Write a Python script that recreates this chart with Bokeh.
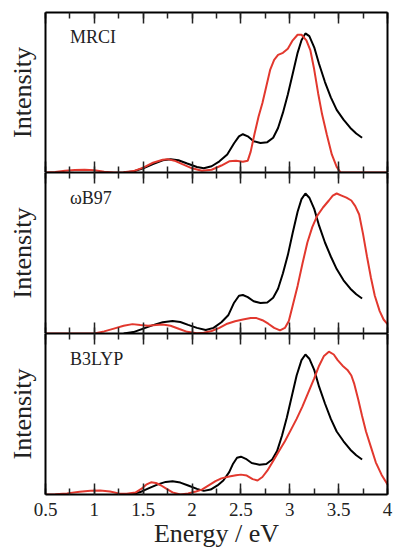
from bokeh.plotting import figure
from bokeh.layouts import column
from bokeh.models import (Range1d, LinearAxis, SingleIntervalTicker, FixedTicker, Label,
                          NumeralTickFormatter, CustomLabelingPolicy)
from bokeh.embed import file_html
from bokeh.resources import INLINE

# ---------------- data ----------------
panel_names = ["MRCI", "\u03c9B97", "B3LYP"]
x_ticks_interval = 0.5
x_min, x_max = 0.5, 4.0
x_label = "Energy / eV"
y_label = "Intensity"

mrci_black_x = [1.30, 1.40, 1.50, 1.60, 1.70, 1.78, 1.86, 1.95, 2.05, 2.12, 2.20, 2.28, 2.36, 2.43, 2.48, 2.52, 2.57, 2.63, 2.70, 2.77, 2.83, 2.88, 2.93, 2.98, 3.03, 3.08, 3.12, 3.16, 3.20, 3.25, 3.30, 3.36, 3.42, 3.48, 3.55, 3.62, 3.68, 3.74]
mrci_black_y = [0.0, 0.008, 0.03, 0.06, 0.088, 0.096, 0.088, 0.065, 0.04, 0.03, 0.045, 0.08, 0.13, 0.21, 0.26, 0.275, 0.26, 0.225, 0.212, 0.218, 0.25, 0.32, 0.43, 0.56, 0.71, 0.86, 0.95, 1.0, 0.98, 0.9, 0.78, 0.65, 0.54, 0.45, 0.38, 0.32, 0.28, 0.25]
mrci_red_x = [0.50, 0.60, 0.70, 0.80, 0.90, 1.00, 1.10, 1.20, 1.30, 1.40, 1.50, 1.60, 1.70, 1.75, 1.82, 1.90, 2.00, 2.10, 2.20, 2.30, 2.38, 2.45, 2.52, 2.57, 2.60, 2.64, 2.68, 2.72, 2.76, 2.80, 2.84, 2.88, 2.93, 2.98, 3.03, 3.08, 3.12, 3.17, 3.21, 3.25, 3.29, 3.33, 3.38, 3.43, 3.48, 3.52, 4.00]
mrci_red_y = [0.0, 0.003, 0.012, 0.018, 0.02, 0.016, 0.006, 0.0, 0.002, 0.01, 0.035, 0.07, 0.092, 0.096, 0.085, 0.06, 0.03, 0.012, 0.02, 0.05, 0.08, 0.085, 0.078, 0.085, 0.15, 0.28, 0.40, 0.50, 0.62, 0.74, 0.81, 0.845, 0.86, 0.89, 0.95, 0.99, 0.99, 0.95, 0.88, 0.74, 0.57, 0.42, 0.27, 0.13, 0.04, 0.0, 0.0]

wb97_black_x = [1.30, 1.40, 1.50, 1.60, 1.70, 1.80, 1.88, 1.96, 2.05, 2.14, 2.22, 2.30, 2.37, 2.43, 2.48, 2.52, 2.57, 2.63, 2.70, 2.77, 2.83, 2.88, 2.93, 2.98, 3.03, 3.08, 3.12, 3.16, 3.20, 3.25, 3.30, 3.36, 3.42, 3.48, 3.55, 3.62, 3.68, 3.74]
wb97_black_y = [0.0, 0.01, 0.035, 0.06, 0.08, 0.09, 0.082, 0.062, 0.04, 0.025, 0.04, 0.08, 0.13, 0.22, 0.27, 0.275, 0.26, 0.23, 0.218, 0.222, 0.255, 0.32, 0.43, 0.56, 0.72, 0.87, 0.96, 1.0, 0.97, 0.89, 0.77, 0.65, 0.55, 0.46, 0.38, 0.32, 0.28, 0.25]
wb97_red_x = [0.50, 0.80, 1.00, 1.10, 1.20, 1.30, 1.39, 1.47, 1.55, 1.63, 1.70, 1.78, 1.87, 1.95, 2.05, 2.12, 2.20, 2.28, 2.36, 2.44, 2.52, 2.60, 2.66, 2.72, 2.78, 2.84, 2.90, 2.95, 2.99, 3.03, 3.08, 3.13, 3.18, 3.23, 3.28, 3.34, 3.40, 3.44, 3.48, 3.53, 3.58, 3.63, 3.67, 3.71, 3.75, 3.79, 3.83, 3.87, 3.92, 3.96, 4.00]
wb97_red_y = [0.0, 0.0, 0.0, 0.015, 0.035, 0.055, 0.067, 0.06, 0.055, 0.06, 0.065, 0.055, 0.032, 0.012, 0.002, 0.005, 0.018, 0.04, 0.07, 0.088, 0.1, 0.11, 0.11, 0.095, 0.07, 0.04, 0.022, 0.04, 0.09, 0.2, 0.34, 0.5, 0.65, 0.76, 0.84, 0.9, 0.95, 0.985, 1.0, 0.985, 0.97, 0.95, 0.91, 0.85, 0.71, 0.55, 0.4, 0.27, 0.16, 0.1, 0.067]

b3lyp_black_x = [1.30, 1.40, 1.48, 1.56, 1.65, 1.73, 1.80, 1.88, 1.96, 2.05, 2.12, 2.19, 2.26, 2.32, 2.38, 2.42, 2.46, 2.50, 2.55, 2.61, 2.69, 2.76, 2.82, 2.87, 2.92, 2.97, 3.02, 3.07, 3.12, 3.16, 3.20, 3.25, 3.30, 3.36, 3.42, 3.48, 3.55, 3.62, 3.68, 3.74]
b3lyp_black_y = [0.0, 0.005, 0.02, 0.045, 0.072, 0.09, 0.094, 0.085, 0.064, 0.04, 0.026, 0.035, 0.065, 0.1, 0.16, 0.22, 0.262, 0.27, 0.255, 0.225, 0.213, 0.218, 0.25, 0.31, 0.42, 0.55, 0.7, 0.85, 0.96, 1.0, 0.97, 0.89, 0.77, 0.65, 0.54, 0.45, 0.38, 0.32, 0.28, 0.25]
b3lyp_red_x = [0.50, 0.60, 0.72, 0.85, 0.96, 1.06, 1.16, 1.25, 1.33, 1.42, 1.48, 1.53, 1.58, 1.63, 1.68, 1.74, 1.80, 1.88, 1.96, 2.04, 2.10, 2.17, 2.24, 2.30, 2.38, 2.45, 2.50, 2.56, 2.62, 2.67, 2.72, 2.77, 2.83, 2.89, 2.95, 3.01, 3.07, 3.13, 3.19, 3.25, 3.30, 3.35, 3.40, 3.45, 3.49, 3.54, 3.59, 3.63, 3.66, 3.70, 3.74, 3.78, 3.83, 3.88, 3.94, 4.00]
b3lyp_red_y = [0.0, 0.002, 0.008, 0.02, 0.027, 0.029, 0.022, 0.008, 0.006, 0.014, 0.04, 0.07, 0.087, 0.082, 0.066, 0.04, 0.015, 0.0, 0.008, 0.022, 0.035, 0.065, 0.095, 0.115, 0.128, 0.137, 0.142, 0.135, 0.11, 0.1, 0.125, 0.17, 0.24, 0.31, 0.38, 0.46, 0.54, 0.63, 0.73, 0.83, 0.92, 0.99, 1.02, 1.0, 0.96, 0.92, 0.89, 0.85, 0.79, 0.68, 0.56, 0.45, 0.34, 0.23, 0.14, 0.072]

panels = [
    (mrci_black_x, mrci_black_y, mrci_red_x, mrci_red_y),
    (wb97_black_x, wb97_black_y, wb97_red_x, wb97_red_y),
    (b3lyp_black_x, b3lyp_black_y, b3lyp_red_x, b3lyp_red_y),
]

# ---------------- style ----------------
SERIF = "Liberation Serif"
RED = "#e2382e"
BLACK = "#000000"
TEXT = "#222222"
FRAME_W = 342
FRAME_H = [160, 161, 161]
TOP_BORDER = [12, 0, 0]


def tick_axis(with_labels):
    ax = LinearAxis(ticker=SingleIntervalTicker(interval=x_ticks_interval, num_minor_ticks=2))
    ax.axis_line_width = 2
    ax.axis_line_color = BLACK
    ax.major_tick_in = 11
    ax.major_tick_out = 0
    ax.minor_tick_in = 6
    ax.minor_tick_out = 0
    ax.major_tick_line_width = 1.5
    ax.minor_tick_line_width = 1.5
    ax.major_tick_line_color = TEXT
    ax.minor_tick_line_color = TEXT
    if with_labels:
        ax.formatter = NumeralTickFormatter(format="0.[0]")
        ax.major_label_text_font = SERIF
        ax.major_label_text_font_size = "19px"
        ax.major_label_text_color = TEXT
        ax.major_label_standoff = 8
        ax.axis_label = x_label
        ax.axis_label_text_font = SERIF
        ax.axis_label_text_font_size = "26px"
        ax.axis_label_text_font_style = "normal"
        ax.axis_label_text_color = TEXT
        ax.axis_label_standoff = 0
    else:
        ax.major_label_text_font_size = "0px"
        ax.major_label_standoff = 0
        ax.major_label_policy = CustomLabelingPolicy(code="return []")
    return ax


figs = []
for i, (name, (bx, by, rx, ry)) in enumerate(zip(panel_names, panels)):
    last = i == len(panels) - 1
    p = figure(frame_width=FRAME_W, frame_height=FRAME_H[i],
               x_range=Range1d(x_min, x_max), y_range=Range1d(0, 1.15),
               output_backend="svg", toolbar_location=None,
               x_axis_location=None, y_axis_location=None,
               min_border_left=45, min_border_right=6,
               min_border_top=TOP_BORDER[i], min_border_bottom=0)
    p.grid.visible = False
    p.outline_line_color = None
    p.background_fill_color = "white"
    p.border_fill_color = "white"

    p.add_layout(tick_axis(False), "above")
    p.add_layout(tick_axis(last), "below")

    left = LinearAxis(ticker=FixedTicker(ticks=[]))
    left.axis_line_width = 2
    left.axis_line_color = BLACK
    left.major_tick_out = 0
    left.minor_tick_out = 0
    left.major_label_text_font_size = "0px"
    left.major_label_standoff = 0
    left.axis_label = y_label
    left.axis_label_text_font = SERIF
    left.axis_label_text_font_size = "26px"
    left.axis_label_text_font_style = "normal"
    left.axis_label_text_color = TEXT
    left.axis_label_standoff = 9
    p.add_layout(left, "left")

    right = LinearAxis(ticker=FixedTicker(ticks=[]))
    right.axis_line_width = 2
    right.axis_line_color = BLACK
    right.major_tick_out = 0
    right.minor_tick_out = 0
    right.major_label_text_font_size = "0px"
    right.major_label_standoff = 0
    p.add_layout(right, "right")

    p.line(bx, by, line_color=BLACK, line_width=2)
    p.line(rx, ry, line_color=RED, line_width=2)

    p.add_layout(Label(x=0.75, y=0.9, text=name, text_font=SERIF,
                       text_font_size="18px", text_color=TEXT))
    figs.append(p)

layout = column(*figs, spacing=0)
open("out.html", "w").write(file_html(layout, INLINE))
